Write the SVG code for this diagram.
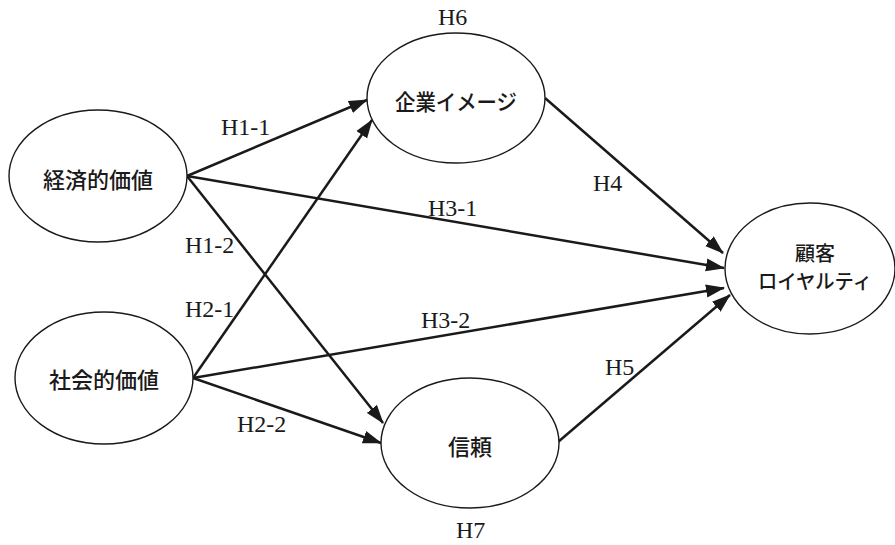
<svg xmlns="http://www.w3.org/2000/svg" width="895" height="545" viewBox="0 0 895 545">
<style>
.node ellipse{fill:#fff;stroke:#1a1a1a;stroke-width:1.4}
.jp{font-family:"Noto Sans CJK JP","Noto Sans",sans-serif;font-size:22px;font-weight:500;fill:#1a1a1a;text-anchor:middle}
.lbl{font-family:"Liberation Serif","Times New Roman",serif;font-size:24px;fill:#1a1a1a}
.edge{stroke:#1a1a1a;stroke-width:2.5;fill:none;marker-end:url(#arr)}
</style>
<defs>
<marker id="arr" markerUnits="userSpaceOnUse" markerWidth="19" markerHeight="14" refX="18" refY="7" orient="auto">
<path d="M0,0.5 L19,7 L0,13.5 z" fill="#1a1a1a"/>
</marker>
</defs>
<rect width="895" height="545" fill="#fff"/>
<g id="connectors">
<line class="edge" x1="187" y1="176" x2="367" y2="100"/>
<line class="edge" x1="187" y1="176" x2="383" y2="423"/>
<line class="edge" x1="187" y1="176" x2="724" y2="268"/>
<line class="edge" x1="193" y1="378" x2="372" y2="120"/>
<line class="edge" x1="193" y1="378" x2="381" y2="443"/>
<line class="edge" x1="193" y1="378" x2="724" y2="288"/>
<line class="edge" x1="545" y1="98" x2="723" y2="253"/>
<line class="edge" x1="558" y1="442" x2="730" y2="295"/>
</g>
<g id="node-keizai" class="node">
<ellipse cx="98" cy="176" rx="89" ry="66"/>
<text class="jp" x="98" y="188">経済的価値</text>
</g>
<g id="node-shakai" class="node">
<ellipse cx="104" cy="378" rx="89" ry="66"/>
<text class="jp" x="104" y="388">社会的価値</text>
</g>
<g id="node-kigyo" class="node">
<ellipse cx="456" cy="98" rx="89" ry="65"/>
<text class="jp" x="456" y="110" textLength="122" lengthAdjust="spacingAndGlyphs">企業イメージ</text>
</g>
<g id="node-shinrai" class="node">
<ellipse cx="470" cy="443" rx="89" ry="65"/>
<text class="jp" x="470" y="455">信頼</text>
</g>
<g id="node-loyalty" class="node">
<ellipse cx="810" cy="268.5" rx="85" ry="65.5"/>
<text class="jp" x="815" y="261" style="font-size:20px">顧客</text>
<text class="jp" x="815" y="289" style="font-size:20px" textLength="114" lengthAdjust="spacingAndGlyphs">ロイヤルティ</text>
</g>
<g id="labels">
<text class="lbl" x="438" y="25">H6</text>
<text class="lbl" x="221" y="135">H1-1</text>
<text class="lbl" x="185" y="253">H1-2</text>
<text class="lbl" x="185" y="317">H2-1</text>
<text class="lbl" x="237" y="432">H2-2</text>
<text class="lbl" x="428" y="216">H3-1</text>
<text class="lbl" x="421" y="328">H3-2</text>
<text class="lbl" x="593" y="191">H4</text>
<text class="lbl" x="605" y="375">H5</text>
<text class="lbl" x="456" y="538">H7</text>
</g>
</svg>
